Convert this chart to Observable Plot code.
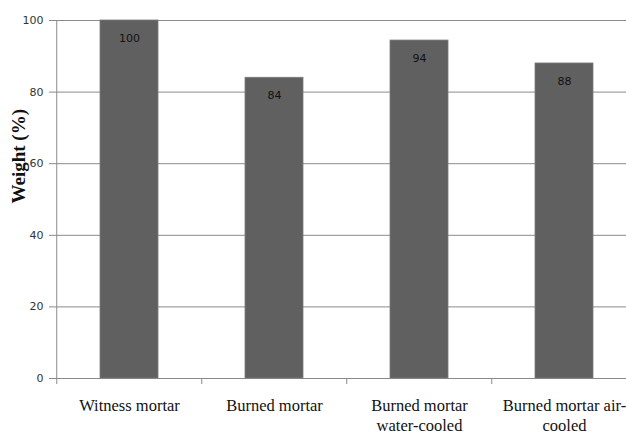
<!DOCTYPE html>
<html>
<head>
<meta charset="utf-8">
<script src="https://cdn.jsdelivr.net/npm/d3@7"></script>
<script src="https://cdn.jsdelivr.net/npm/@observablehq/plot@0.6"></script>
<style>
  body { margin: 0; background: #fff; }
  #chart { width: 626px; height: 436px; overflow: hidden; }
  #chart svg { max-width: none !important; width: 637px !important; height: 436px !important; }
</style>
</head>
<body>
<div id="chart"></div>
<script>
const categories = ["Witness mortar", "Burned mortar", "Burned mortar water-cooled", "Burned mortar air-cooled"];
const tickLabels = ["Witness mortar", "Burned mortar", "Burned mortar\nwater-cooled", "Burned mortar air-\ncooled"];
const weights = [100, 84, 94.4, 88];
const valueLabels = ["100", "84", "94", "88"];
const yTicks = [0, 20, 40, 60, 80, 100];

const rows = categories.map((c, i) => ({cat: c, tick: tickLabels[i], w: weights[i], lab: valueLabels[i]}));

const W = 637, H = 436, mL = 55, mR = 0, mT = 20, mB = 58;
const pInner = 0.6, pOuter = 0.3;
const step = (W - mL - mR) / (categories.length - pInner + 2 * pOuter);
const grid = "#8a8a8a";

const chart = Plot.plot({
  width: W,
  height: H,
  marginLeft: mL,
  marginRight: mR,
  marginTop: mT,
  marginBottom: mB,
  style: {background: "#fff", overflow: "visible", maxWidth: "none"},
  x: {domain: categories, paddingInner: pInner, paddingOuter: pOuter, axis: null},
  y: {domain: [0, 100], axis: null},
  marks: [
    Plot.ruleY(yTicks, {stroke: grid, strokeWidth: 1}),
    Plot.barY(rows, {x: "cat", y: "w", fill: "#606060", stroke: "#7c7c7c", strokeWidth: 0.8}),
    Plot.text(rows, {x: "cat", y: "w", text: "lab", dy: 18, fill: "#111", fontSize: 11, fontFamily: "DejaVu Sans"}),
    // y axis line and category boundary ticks
    Plot.ruleX(rows.slice(0, 1), {x: "cat", y1: 100, y2: 0, dx: -step / 2, insetBottom: -6, stroke: grid}),
    Plot.ruleX(rows.slice(1), {x: "cat", y1: 0, y2: 0, dx: -step / 2, insetBottom: -6, stroke: grid}),
    Plot.axisY({ticks: yTicks, tickSize: 6, tickPadding: 6, stroke: grid, fill: "#333", fontSize: 11, fontFamily: "DejaVu Sans", label: null}),
    Plot.text(rows, {x: "cat", y: 0, text: "tick", dy: 19, lineAnchor: "top", lineHeight: 1.18, fontSize: 16.5, fontFamily: "Liberation Serif", fill: "#111"}),
    Plot.text(["Weight (%)"], {frameAnchor: "left", rotate: -90, dx: -37, dy: 4, fontSize: 19, fontWeight: "bold", fontFamily: "Liberation Serif", fill: "#111"})
  ]
});
document.getElementById("chart").appendChild(chart);
</script>
</body>
</html>
